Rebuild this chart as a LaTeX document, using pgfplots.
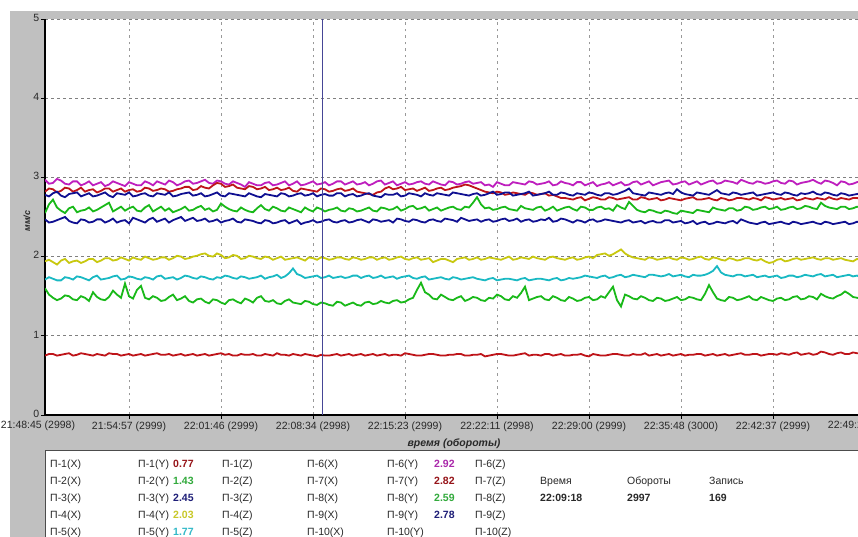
\documentclass[border=0pt]{standalone}
\usepackage{pgfplots}
\pgfplotsset{compat=1.18}
\usepackage{pgfplotstable}
\usepackage{fontspec}
\setmainfont{Liberation Sans}
\definecolor{bggray}{RGB}{192,192,192}
\definecolor{cRed}{RGB}{190,20,25}
\definecolor{cGreen}{RGB}{25,185,25}
\definecolor{cNavy}{RGB}{15,15,145}
\definecolor{cYellow}{RGB}{200,200,15}
\definecolor{cCyan}{RGB}{25,185,195}
\definecolor{cMag}{RGB}{190,30,190}
\definecolor{cCursor}{RGB}{70,70,150}
\definecolor{vRed}{RGB}{150,20,25}
\definecolor{vGreen}{RGB}{50,170,60}
\definecolor{vNavy}{RGB}{30,30,120}
\definecolor{vYellow}{RGB}{200,200,40}
\definecolor{vCyan}{RGB}{50,185,200}
\definecolor{vMag}{RGB}{170,40,170}
\definecolor{txt}{RGB}{40,40,40}

\pgfplotstableread{
x s1 s2 s3 s4 s5 s6 s7 s8 s9
45 0.75 1.60 2.47 1.94 1.71 2.97 2.82 2.55 2.78
49 0.77 1.52 2.43 1.96 1.74 2.92 2.86 2.66 2.76
53 0.77 1.48 2.44 1.93 1.72 2.93 2.85 2.72 2.80
57 0.75 1.45 2.46 1.90 1.70 2.98 2.81 2.62 2.82
61 0.76 1.47 2.48 1.95 1.70 2.96 2.83 2.58 2.77
65 0.77 1.51 2.50 1.97 1.74 2.92 2.87 2.55 2.75
69 0.78 1.50 2.45 1.92 1.73 2.91 2.86 2.61 2.79
73 0.75 1.46 2.43 1.94 1.71 2.95 2.82 2.63 2.80
77 0.76 1.45 2.42 1.95 1.75 2.95 2.84 2.56 2.81
81 0.78 1.50 2.47 1.92 1.74 2.90 2.87 2.58 2.76
85 0.77 1.48 2.46 1.94 1.72 2.92 2.82 2.59 2.78
89 0.76 1.44 2.43 1.97 1.70 2.95 2.84 2.62 2.80
93 0.75 1.55 2.44 1.97 1.74 2.90 2.85 2.57 2.76
97 0.77 1.49 2.47 1.93 1.76 2.92 2.81 2.59 2.77
101 0.76 1.46 2.47 1.95 1.71 2.94 2.83 2.62 2.79
105 0.75 1.45 2.43 1.98 1.72 2.89 2.86 2.65 2.81
109 0.78 1.49 2.45 1.98 1.73 2.91 2.86 2.68 2.77
113 0.77 1.57 2.48 1.95 1.75 2.95 2.82 2.57 2.75
117 0.77 1.52 2.43 1.96 1.76 2.93 2.84 2.60 2.80
121 0.75 1.48 2.45 1.99 1.71 2.91 2.86 2.63 2.79
125 0.76 1.66 2.46 1.97 1.72 2.89 2.82 2.58 2.78
129 0.77 1.50 2.42 1.95 1.75 2.94 2.84 2.61 2.81
133 0.75 1.47 2.49 1.99 1.74 2.92 2.85 2.63 2.76
137 0.76 1.58 2.47 1.97 1.72 2.90 2.82 2.58 2.77
141 0.77 1.63 2.45 1.96 1.71 2.90 2.83 2.57 2.79
145 0.75 1.48 2.43 2.00 1.74 2.95 2.87 2.62 2.80
149 0.76 1.46 2.47 1.98 1.73 2.93 2.86 2.65 2.77
153 0.77 1.50 2.49 1.96 1.71 2.90 2.83 2.57 2.76
157 0.78 1.48 2.44 1.97 1.75 2.95 2.84 2.60 2.80
161 0.76 1.44 2.46 1.99 1.76 2.93 2.86 2.63 2.79
165 0.76 1.45 2.48 1.99 1.72 2.91 2.85 2.58 2.78
169 0.77 1.49 2.43 1.96 1.73 2.96 2.82 2.61 2.81
173 0.75 1.52 2.46 1.98 1.74 2.94 2.83 2.56 2.76
177 0.76 1.45 2.48 2.01 1.71 2.90 2.85 2.58 2.77
181 0.77 1.47 2.50 2.00 1.73 2.92 2.86 2.60 2.79
185 0.75 1.50 2.45 1.97 1.76 2.95 2.88 2.63 2.80
189 0.76 1.44 2.47 1.98 1.75 2.96 2.88 2.58 2.81
193 0.77 1.42 2.49 2.00 1.73 2.92 2.84 2.59 2.77
197 0.75 1.46 2.45 2.01 1.72 2.93 2.85 2.62 2.78
201 0.76 1.47 2.46 2.03 1.75 2.95 2.89 2.64 2.80
205 0.77 1.43 2.48 2.04 1.74 2.97 2.87 2.59 2.76
209 0.75 1.41 2.44 2.01 1.72 2.93 2.86 2.61 2.77
213 0.76 1.46 2.45 2.00 1.71 2.92 2.90 2.57 2.79
217 0.77 1.45 2.47 2.04 1.74 2.96 2.93 2.59 2.81
221 0.78 1.42 2.43 2.02 1.73 2.95 2.92 2.67 2.77
225 0.76 1.40 2.45 1.98 1.76 2.92 2.88 2.63 2.76
229 0.77 1.45 2.46 1.99 1.75 2.91 2.89 2.60 2.80
233 0.75 1.46 2.48 2.02 1.73 2.95 2.91 2.58 2.79
237 0.75 1.43 2.44 2.01 1.72 2.93 2.87 2.57 2.78
241 0.77 1.41 2.43 1.97 1.75 2.91 2.86 2.62 2.77
245 0.76 1.47 2.47 1.98 1.74 2.88 2.85 2.59 2.76
249 0.76 1.45 2.46 2.01 1.72 2.94 2.89 2.57 2.80
253 0.77 1.42 2.45 2.00 1.73 2.92 2.88 2.56 2.78
257 0.75 1.48 2.43 1.98 1.74 2.90 2.85 2.61 2.76
261 0.75 1.50 2.42 1.97 1.76 2.90 2.86 2.65 2.75
265 0.77 1.44 2.46 2.00 1.72 2.93 2.88 2.60 2.79
269 0.76 1.43 2.45 1.99 1.74 2.94 2.84 2.58 2.78
273 0.75 1.45 2.42 1.96 1.75 2.90 2.85 2.63 2.77
277 0.78 1.41 2.43 1.98 1.77 2.91 2.87 2.61 2.76
281 0.76 1.40 2.45 2.00 1.73 2.93 2.84 2.58 2.80
285 0.76 1.44 2.46 1.96 1.75 2.95 2.85 2.57 2.79
289 0.75 1.46 2.42 1.97 1.79 2.90 2.87 2.62 2.76
293 0.77 1.42 2.44 1.98 1.85 2.92 2.83 2.60 2.77
297 0.76 1.41 2.46 1.99 1.78 2.95 2.82 2.58 2.79
301 0.75 1.40 2.41 1.97 1.76 2.90 2.86 2.56 2.80
305 0.77 1.44 2.43 1.95 1.73 2.91 2.85 2.62 2.77
309 0.76 1.43 2.44 1.99 1.74 2.93 2.84 2.59 2.78
313 0.75 1.40 2.46 1.98 1.75 2.95 2.83 2.57 2.80
317 0.74 1.39 2.43 1.96 1.76 2.91 2.82 2.62 2.76
321 0.76 1.42 2.44 1.99 1.73 2.92 2.86 2.60 2.78
325 0.75 1.41 2.46 1.98 1.74 2.94 2.85 2.57 2.79
329 0.75 1.39 2.47 1.96 1.76 2.90 2.82 2.59 2.77
333 0.76 1.38 2.44 1.97 1.73 2.92 2.83 2.60 2.77
337 0.77 1.43 2.43 1.99 1.74 2.95 2.85 2.62 2.80
341 0.75 1.42 2.45 1.99 1.75 2.95 2.86 2.58 2.80
345 0.76 1.38 2.46 1.97 1.73 2.91 2.83 2.57 2.76
349 0.77 1.40 2.43 1.96 1.74 2.93 2.84 2.61 2.78
353 0.75 1.42 2.44 1.99 1.76 2.95 2.86 2.60 2.79
357 0.76 1.39 2.46 1.98 1.76 2.91 2.82 2.57 2.76
361 0.77 1.38 2.47 1.96 1.73 2.92 2.81 2.58 2.77
365 0.75 1.42 2.45 1.97 1.75 2.94 2.80 2.60 2.79
369 0.76 1.43 2.43 1.99 1.76 2.90 2.79 2.62 2.80
373 0.77 1.40 2.47 1.99 1.73 2.92 2.78 2.58 2.77
377 0.75 1.41 2.46 1.96 1.74 2.95 2.81 2.57 2.76
381 0.76 1.44 2.44 1.98 1.76 2.96 2.82 2.62 2.75
385 0.77 1.42 2.45 1.99 1.73 2.91 2.86 2.61 2.79
389 0.75 1.41 2.46 1.96 1.74 2.93 2.88 2.59 2.78
393 0.76 1.44 2.43 1.97 1.75 2.95 2.85 2.60 2.78
397 0.76 1.45 2.48 1.99 1.72 2.90 2.86 2.63 2.80
401 0.75 1.42 2.47 2.00 1.74 2.92 2.88 2.58 2.76
405 0.78 1.43 2.45 1.97 1.75 2.94 2.84 2.60 2.77
409 0.77 1.46 2.44 1.96 1.76 2.91 2.85 2.63 2.80
413 0.76 1.48 2.47 1.98 1.73 2.92 2.86 2.64 2.79
417 0.75 1.58 2.46 1.99 1.72 2.94 2.83 2.60 2.78
421 0.75 1.67 2.44 1.96 1.74 2.95 2.85 2.61 2.76
425 0.76 1.55 2.43 1.97 1.75 2.92 2.87 2.63 2.80
429 0.77 1.52 2.46 1.98 1.71 2.91 2.83 2.58 2.78
433 0.77 1.47 2.47 1.93 1.72 2.95 2.84 2.60 2.77
437 0.76 1.46 2.45 1.95 1.73 2.93 2.86 2.62 2.80
441 0.75 1.52 2.44 1.97 1.74 2.91 2.87 2.58 2.79
445 0.75 1.49 2.48 1.97 1.72 2.90 2.84 2.60 2.78
449 0.76 1.46 2.47 1.95 1.71 2.95 2.85 2.62 2.77
453 0.76 1.45 2.46 1.93 1.74 2.94 2.87 2.63 2.81
457 0.77 1.48 2.44 1.97 1.73 2.91 2.88 2.60 2.80
461 0.77 1.50 2.49 1.98 1.71 2.92 2.89 2.59 2.79
465 0.75 1.44 2.47 1.99 1.72 2.94 2.91 2.63 2.78
469 0.75 1.46 2.45 1.96 1.73 2.95 2.90 2.62 2.77
473 0.76 1.49 2.46 1.97 1.74 2.92 2.88 2.68 2.79
477 0.76 1.48 2.47 1.99 1.72 2.93 2.86 2.75 2.80
481 0.77 1.45 2.44 1.96 1.71 2.94 2.84 2.66 2.77
485 0.74 1.44 2.46 1.97 1.70 2.90 2.82 2.61 2.78
489 0.75 1.48 2.47 1.99 1.72 2.91 2.81 2.62 2.80
493 0.76 1.47 2.44 1.98 1.73 2.88 2.80 2.59 2.82
497 0.77 1.52 2.45 1.97 1.70 2.94 2.82 2.60 2.78
501 0.77 1.50 2.47 1.96 1.71 2.92 2.81 2.62 2.79
505 0.76 1.46 2.48 1.98 1.72 2.90 2.78 2.63 2.81
509 0.75 1.45 2.45 2.00 1.72 2.90 2.79 2.60 2.81
513 0.75 1.50 2.46 1.96 1.71 2.94 2.81 2.59 2.77
517 0.76 1.48 2.48 1.97 1.70 2.93 2.80 2.58 2.78
521 0.77 1.54 2.44 1.99 1.72 2.92 2.79 2.64 2.79
525 0.78 1.62 2.46 1.98 1.73 2.91 2.78 2.61 2.80
529 0.75 1.45 2.47 1.97 1.70 2.95 2.81 2.60 2.82
533 0.76 1.47 2.44 2.00 1.71 2.94 2.80 2.59 2.77
537 0.76 1.49 2.45 1.98 1.72 2.91 2.78 2.62 2.78
541 0.75 1.50 2.47 1.97 1.72 2.92 2.79 2.63 2.79
545 0.77 1.46 2.46 1.96 1.71 2.93 2.80 2.58 2.80
549 0.77 1.45 2.49 1.99 1.70 2.95 2.77 2.60 2.82
553 0.75 1.50 2.44 2.00 1.72 2.90 2.78 2.63 2.78
557 0.76 1.48 2.45 1.98 1.73 2.91 2.76 2.58 2.78
561 0.77 1.45 2.48 1.97 1.70 2.95 2.74 2.60 2.81
565 0.75 1.44 2.47 1.96 1.71 2.93 2.74 2.62 2.80
569 0.75 1.49 2.45 1.98 1.73 2.92 2.73 2.63 2.78
573 0.76 1.47 2.43 1.99 1.72 2.90 2.72 2.60 2.77
577 0.76 1.44 2.46 1.96 1.73 2.94 2.74 2.58 2.80
581 0.77 1.45 2.45 1.97 1.74 2.94 2.75 2.63 2.79
585 0.75 1.48 2.43 1.99 1.76 2.90 2.71 2.62 2.78
589 0.74 1.49 2.46 2.00 1.75 2.92 2.73 2.59 2.81
593 0.77 1.45 2.47 1.98 1.74 2.94 2.75 2.59 2.80
597 0.76 1.46 2.44 2.02 1.73 2.89 2.74 2.62 2.78
601 0.75 1.50 2.45 2.03 1.75 2.91 2.72 2.63 2.77
605 0.75 1.48 2.47 2.04 1.76 2.92 2.72 2.60 2.80
609 0.76 1.55 2.46 2.01 1.73 2.94 2.75 2.61 2.80
613 0.77 1.62 2.45 2.03 1.74 2.90 2.74 2.58 2.78
617 0.77 1.45 2.44 2.06 1.76 2.92 2.72 2.65 2.79
621 0.76 1.37 2.43 2.09 1.77 2.94 2.73 2.62 2.81
625 0.75 1.52 2.45 2.04 1.74 2.90 2.74 2.60 2.83
629 0.75 1.50 2.46 2.01 1.75 2.91 2.75 2.69 2.86
633 0.77 1.47 2.43 1.99 1.77 2.94 2.72 2.64 2.80
637 0.76 1.46 2.44 1.98 1.76 2.95 2.72 2.59 2.79
641 0.76 1.50 2.45 1.97 1.75 2.91 2.75 2.57 2.78
645 0.78 1.48 2.42 1.96 1.74 2.93 2.74 2.56 2.77
649 0.75 1.45 2.44 1.99 1.77 2.95 2.72 2.59 2.81
653 0.76 1.44 2.45 1.98 1.77 2.90 2.73 2.58 2.80
657 0.77 1.48 2.43 1.96 1.76 2.92 2.74 2.56 2.79
661 0.75 1.47 2.43 1.97 1.75 2.94 2.71 2.55 2.78
665 0.76 1.44 2.46 1.98 1.76 2.95 2.72 2.58 2.80
669 0.77 1.45 2.46 1.99 1.78 2.96 2.74 2.57 2.81
673 0.75 1.47 2.43 1.97 1.75 2.91 2.73 2.55 2.79
677 0.76 1.49 2.44 1.96 1.76 2.92 2.72 2.54 2.85
681 0.77 1.45 2.45 1.99 1.77 2.94 2.71 2.58 2.81
685 0.75 1.46 2.42 1.98 1.75 2.95 2.73 2.57 2.79
689 0.76 1.49 2.43 1.96 1.74 2.91 2.74 2.56 2.78
693 0.76 1.48 2.45 1.97 1.77 2.93 2.75 2.55 2.77
697 0.77 1.46 2.41 1.99 1.76 2.95 2.72 2.59 2.81
701 0.77 1.45 2.43 2.00 1.76 2.91 2.72 2.58 2.80
705 0.75 1.53 2.44 1.97 1.77 2.93 2.73 2.57 2.79
709 0.76 1.64 2.41 1.96 1.79 2.95 2.74 2.56 2.78
713 0.77 1.55 2.42 1.99 1.82 2.96 2.72 2.62 2.81
717 0.75 1.47 2.44 1.98 1.88 2.92 2.71 2.60 2.84
721 0.76 1.45 2.43 1.96 1.80 2.93 2.74 2.59 2.80
725 0.77 1.44 2.42 1.95 1.77 2.96 2.73 2.58 2.79
729 0.75 1.49 2.44 1.98 1.76 2.95 2.71 2.61 2.78
733 0.76 1.48 2.45 1.97 1.75 2.94 2.72 2.61 2.81
737 0.77 1.45 2.42 1.95 1.77 2.92 2.74 2.58 2.80
741 0.78 1.46 2.47 1.96 1.77 2.97 2.74 2.59 2.78
745 0.76 1.48 2.45 1.98 1.75 2.95 2.73 2.63 2.79
749 0.76 1.50 2.43 1.98 1.76 2.93 2.72 2.62 2.80
753 0.77 1.46 2.42 1.96 1.77 2.92 2.74 2.59 2.81
757 0.77 1.45 2.41 1.95 1.74 2.95 2.73 2.60 2.77
761 0.75 1.49 2.43 1.97 1.75 2.94 2.71 2.62 2.78
765 0.76 1.47 2.44 1.94 1.76 2.92 2.75 2.63 2.79
769 0.77 1.45 2.41 1.92 1.74 2.93 2.74 2.60 2.80
773 0.77 1.44 2.42 1.93 1.75 2.95 2.72 2.61 2.81
777 0.76 1.47 2.43 1.96 1.76 2.96 2.73 2.63 2.79
781 0.78 1.48 2.44 1.97 1.73 2.93 2.74 2.59 2.78
785 0.77 1.45 2.42 1.94 1.74 2.92 2.72 2.60 2.81
789 0.76 1.46 2.41 1.95 1.76 2.96 2.73 2.62 2.80
793 0.78 1.49 2.44 1.97 1.76 2.95 2.74 2.63 2.78
797 0.79 1.50 2.43 1.98 1.74 2.91 2.71 2.60 2.77
801 0.76 1.46 2.41 1.96 1.75 2.93 2.72 2.61 2.80
805 0.77 1.47 2.42 1.97 1.77 2.94 2.74 2.64 2.79
809 0.78 1.50 2.43 1.98 1.76 2.95 2.73 2.63 2.80
813 0.76 1.49 2.44 1.99 1.75 2.97 2.72 2.61 2.82
817 0.77 1.46 2.42 1.97 1.77 2.94 2.74 2.60 2.79
821 0.80 1.53 2.41 1.96 1.78 2.92 2.73 2.68 2.78
825 0.79 1.50 2.44 1.98 1.75 2.96 2.72 2.64 2.81
829 0.77 1.48 2.43 1.98 1.76 2.95 2.75 2.62 2.80
833 0.76 1.47 2.41 1.96 1.77 2.93 2.73 2.61 2.78
837 0.78 1.50 2.42 1.97 1.74 2.90 2.72 2.60 2.77
841 0.79 1.52 2.43 1.98 1.75 2.95 2.74 2.63 2.80
845 0.77 1.56 2.44 1.96 1.76 2.94 2.73 2.63 2.79
849 0.77 1.53 2.41 1.95 1.77 2.91 2.72 2.60 2.77
853 0.79 1.49 2.42 1.94 1.75 2.92 2.74 2.61 2.78
857 0.78 1.48 2.44 1.97 1.76 2.94 2.74 2.63 2.79
861 0.78 1.47 2.43 1.96 1.74 2.95 2.73 2.62 2.80
}\datatable

\newcommand\tf{\fontsize{10.5}{12}\selectfont}

\begin{document}
\begin{tikzpicture}
\useasboundingbox (0pt,0pt) rectangle (858pt,537pt);
\clip (0pt,0pt) rectangle (858pt,537pt);
\fill[white] (0pt,0pt) rectangle (858pt,537pt);
\fill[bggray] (10pt,0pt) rectangle (858pt,526pt);
\fill[white] (45pt,0pt) rectangle (858pt,86pt);
\draw[line width=1pt, black!70] (45pt,0pt) -- (45pt,86pt) -- (858pt,86pt);
\begin{axis}[
  at={(45pt,122pt)}, anchor=south west,
  width=813pt, height=396pt, scale only axis,
  xmin=45, xmax=858, ymin=0, ymax=5,
  clip mode=individual,
  axis background/.style={fill=white},
  axis x line*=bottom, axis y line*=left,
  x axis line style={-, line width=1.5pt, black},
  y axis line style={-, line width=2pt, black},
  xtick={129,221,313,405,497,589,681,773},
  xticklabels={21:54:57 (2999),22:01:46 (2999),22:08:34 (2998),22:15:23 (2999),22:22:11 (2998),22:29:00 (2999),22:35:48 (3000),22:42:37 (2999)},
  ytick={0,1,2,3,4,5},
  tick align=outside, major tick length=4pt,
  tick style={black, line width=0.6pt},
  ymajorgrids, xmajorgrids,
  y grid style={dash pattern=on 3pt off 3pt, gray, line width=0.6pt},
  x grid style={dash pattern=on 2.5pt off 4pt, gray!80, line width=0.6pt},
  tick label style={font=\tf, text=txt},
  /pgf/number format/assume math mode=true,
  yticklabel style={inner sep=1.5pt},
  xticklabel style={inner sep=2pt},
  typeset ticklabels with strut,
]
\addplot[no marks, line width=1.8pt, cRed] table[x=x, y=s1] {\datatable};
\addplot[no marks, line width=1.8pt, cGreen] table[x=x, y=s2] {\datatable};
\addplot[no marks, line width=1.8pt, cNavy] table[x=x, y=s3] {\datatable};
\addplot[no marks, line width=1.8pt, cYellow] table[x=x, y=s4] {\datatable};
\addplot[no marks, line width=1.8pt, cCyan] table[x=x, y=s5] {\datatable};
\addplot[no marks, line width=1.8pt, cMag] table[x=x, y=s6] {\datatable};
\addplot[no marks, line width=1.8pt, cRed] table[x=x, y=s7] {\datatable};
\addplot[no marks, line width=1.8pt, cGreen] table[x=x, y=s8] {\datatable};
\addplot[no marks, line width=1.8pt, cNavy] table[x=x, y=s9] {\datatable};
\addplot[no marks, line width=0.8pt, cCursor] coordinates {(322,0) (322,5)};
\end{axis}
\node[anchor=base, font=\tf, text=txt, inner sep=0pt] at (38pt,108.5pt) {21:48:45 (2998)};
\node[anchor=base, font=\tf, text=txt, inner sep=0pt] at (865pt,108.5pt) {22:49:26 (2999)};
\node[rotate=90, font=\fontsize{9}{10}\selectfont\bfseries\itshape, text=txt] at (27pt,316pt) {мм/с};
\node[anchor=base, font=\tf\bfseries\itshape, text=txt] at (454pt,90pt) {время (обороты)};
\tikzset{lg/.style={anchor=base west, inner sep=0pt, font=\tf, text=txt},
         lgv/.style={anchor=base west, inner sep=0pt, font=\tf\bfseries}}
\foreach \k/\yy in {1/69,2/52,3/35,4/18,5/1}{
  \node[lg] at (50pt,\yy pt) {П-\k(X)};
  \node[lg] at (138pt,\yy pt) {П-\k(Y)};
  \node[lg] at (222pt,\yy pt) {П-\k(Z)};
}
\foreach \k/\yy in {6/69,7/52,8/35,9/18,10/1}{
  \node[lg] at (307pt,\yy pt) {П-\k(X)};
  \node[lg] at (387pt,\yy pt) {П-\k(Y)};
  \node[lg] at (475pt,\yy pt) {П-\k(Z)};
}
\node[lgv, text=vRed] at (173pt,69pt) {0.77};
\node[lgv, text=vGreen] at (173pt,52pt) {1.43};
\node[lgv, text=vNavy] at (173pt,35pt) {2.45};
\node[lgv, text=vYellow] at (173pt,18pt) {2.03};
\node[lgv, text=vCyan] at (173pt,1pt) {1.77};
\node[lgv, text=vMag] at (434pt,69pt) {2.92};
\node[lgv, text=vRed] at (434pt,52pt) {2.82};
\node[lgv, text=vGreen] at (434pt,35pt) {2.59};
\node[lgv, text=vNavy] at (434pt,18pt) {2.78};
\node[lg] at (540pt,52pt) {Время};
\node[lg] at (627pt,52pt) {Обороты};
\node[lg] at (709pt,52pt) {Запись};
\node[lgv, text=txt] at (540pt,35pt) {22:09:18};
\node[lgv, text=txt] at (627pt,35pt) {2997};
\node[lgv, text=txt] at (709pt,35pt) {169};
\end{tikzpicture}
\end{document}
